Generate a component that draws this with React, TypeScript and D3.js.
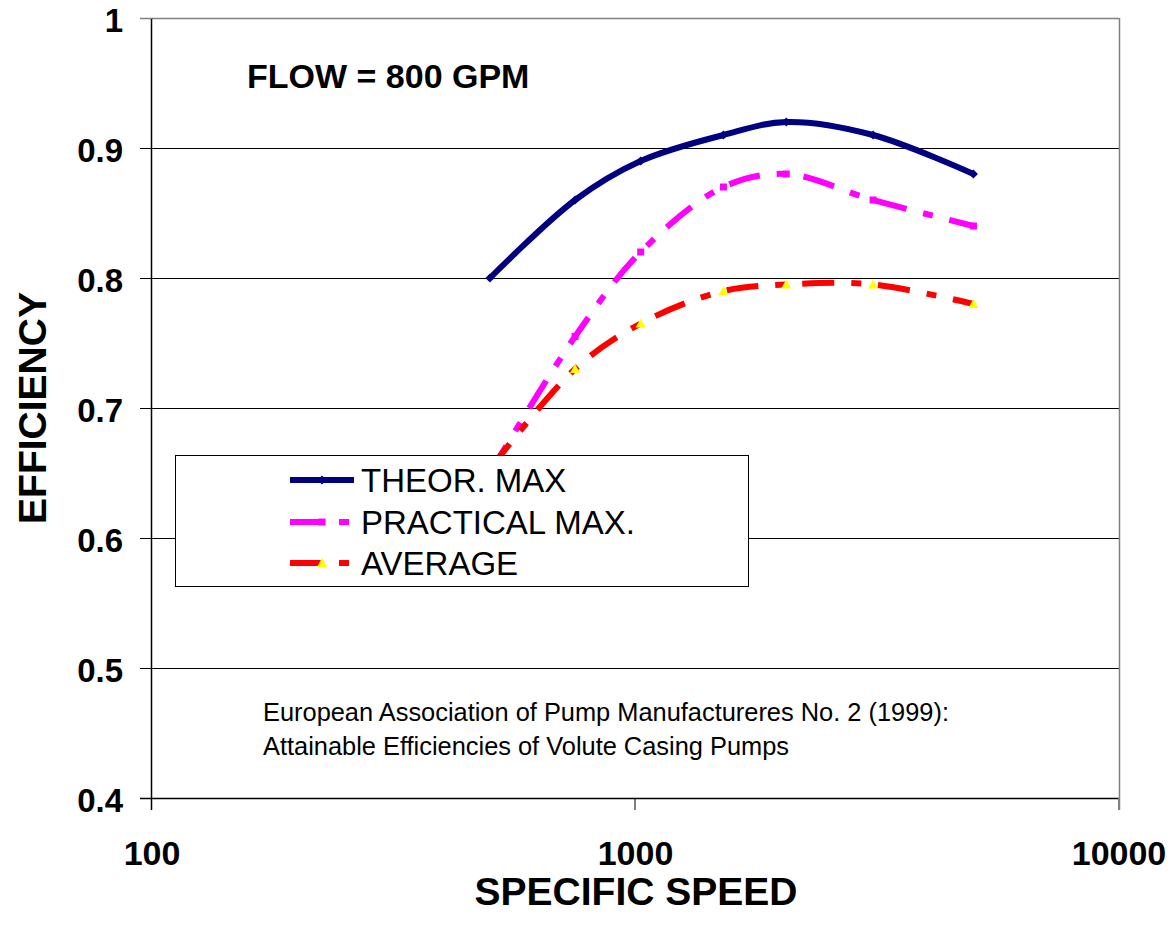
import React from "react";
import * as d3 from "d3";

// Specific speed (x) sample points shared by all three series
const specificSpeed = [500, 750, 1025, 1520, 2050, 3100, 5000];
const theorMax = [0.8, 0.86, 0.89, 0.91, 0.92, 0.91, 0.88];
const practicalMax = [0.65, 0.755, 0.82, 0.87, 0.88, 0.86, 0.84];
const average = [0.653, 0.73, 0.765, 0.79, 0.795, 0.795, 0.78];

const seriesNames = ["THEOR. MAX", "PRACTICAL MAX.", "AVERAGE"];
const xTicks = [100, 1000, 10000];
const xTickLabels = ["100", "1000", "10000"];
const yTicks = [0.4, 0.5, 0.6, 0.7, 0.8, 0.9, 1];
const yTickLabels = ["0.4", "0.5", "0.6", "0.7", "0.8", "0.9", "1"];

const W = 1173;
const H = 934;
const plot = { left: 152, right: 1119, top: 18, bottom: 798 };
const FONT = "'Liberation Sans', Arial, sans-serif";
const DASH = "32 17 10 17";

const x = d3.scaleLog().domain([100, 10000]).range([plot.left, plot.right]);
const y = d3.scaleLinear().domain([0.4, 1]).range([plot.bottom, plot.top]);

type Pt = [number, number];
const toPts = (vals: number[]): Pt[] => specificSpeed.map((s, i) => [s, vals[i]]);

const line = d3
  .line<Pt>()
  .x((d) => x(d[0]))
  .y((d) => y(d[1]))
  .curve(d3.curveCatmullRom.alpha(0.5));

function Diamond({ cx, cy, r, fill }: { cx: number; cy: number; r: number; fill: string }) {
  return <path d={`M${cx},${cy - r}L${cx + r},${cy}L${cx},${cy + r}L${cx - r},${cy}Z`} fill={fill} />;
}
function Square({ cx, cy, r, fill }: { cx: number; cy: number; r: number; fill: string }) {
  return <rect x={cx - r} y={cy - r} width={2 * r} height={2 * r} fill={fill} />;
}
function Triangle({ cx, cy, r, fill }: { cx: number; cy: number; r: number; fill: string }) {
  return <path d={`M${cx},${cy - r}L${cx + r},${cy + r * 0.8}L${cx - r},${cy + r * 0.8}Z`} fill={fill} />;
}

const series = [
  { name: seriesNames[0], values: theorMax, color: "#000080", dash: undefined as string | undefined, marker: "diamond", markerFill: "#000080" },
  { name: seriesNames[1], values: practicalMax, color: "#FF00FF", dash: DASH, marker: "square", markerFill: "#FF00FF" },
  { name: seriesNames[2], values: average, color: "#FF0000", dash: DASH, marker: "triangle", markerFill: "#FFFF00" },
];

function Marker({ kind, cx, cy, fill }: { kind: string; cx: number; cy: number; fill: string }) {
  if (kind === "diamond") return <Diamond cx={cx} cy={cy} r={4.5} fill={fill} />;
  if (kind === "square") return <Square cx={cx} cy={cy} r={3.5} fill={fill} />;
  return <Triangle cx={cx} cy={cy} r={5} fill={fill} />;
}

export default function App() {
  const legend = { x: 175, y: 455, w: 573, h: 131 };
  const legendRows = [480, 522, 563];

  return (
    <svg
      width={W}
      height={H}
      style={{ position: "absolute", left: 0, top: 0, background: "#fff" }}
      fontFamily={FONT}
    >
      <rect x={0} y={0} width={W} height={H} fill="#fff" />

      {/* horizontal gridlines */}
      {yTicks
        .filter((t) => t > 0.4 && t < 1)
        .map((t) => (
          <line key={t} x1={plot.left} x2={plot.right} y1={y(t) + 0.5} y2={y(t) + 0.5} stroke="#000" strokeWidth={1} />
        ))}

      {/* frame: grey top and right, black axes */}
      <line x1={140} x2={plot.right} y1={plot.top + 0.5} y2={plot.top + 0.5} stroke="#808080" strokeWidth={1.5} />
      <line x1={plot.right + 0.5} x2={plot.right + 0.5} y1={plot.top} y2={plot.bottom + 12} stroke="#808080" strokeWidth={1.5} />
      <line x1={plot.left - 0.5} x2={plot.left - 0.5} y1={plot.top} y2={plot.bottom + 12} stroke="#000" strokeWidth={1.5} />
      <line x1={140} x2={plot.right} y1={plot.bottom + 0.5} y2={plot.bottom + 0.5} stroke="#000" strokeWidth={1.5} />

      {/* y ticks and labels */}
      {yTicks.map((t, i) => (
        <g key={t}>
          <line x1={140} x2={plot.left} y1={y(t) + 0.5} y2={y(t) + 0.5} stroke={t === 1 ? "#808080" : "#000"} strokeWidth={1} />
          <text x={123} y={y(t) + 14} textAnchor="end" fontSize={33} fontWeight="bold" fill="#000">
            {yTickLabels[i]}
          </text>
        </g>
      ))}

      {/* x ticks and labels */}
      {xTicks.map((t, i) => (
        <g key={t}>
          <line x1={x(t) - 0.5} x2={x(t) - 0.5} y1={plot.bottom} y2={plot.bottom + 12} stroke={t === 10000 ? "#808080" : "#000"} strokeWidth={1} />
          <text x={x(t)} y={865} textAnchor="middle" fontSize={34} fontWeight="bold" fill="#000">
            {xTickLabels[i]}
          </text>
        </g>
      ))}

      {/* axis titles */}
      <text x={636} y={905} textAnchor="middle" fontSize={39} fontWeight="bold" fill="#000">
        SPECIFIC SPEED
      </text>
      <text
        transform={`translate(46,408) rotate(-90)`}
        textAnchor="middle"
        fontSize={39}
        fontWeight="bold"
        fill="#000"
      >
        EFFICIENCY
      </text>

      {/* series */}
      {series.map((s) => {
        const pts = toPts(s.values);
        return (
          <g key={s.name}>
            <path d={line(pts) || ""} fill="none" stroke={s.color} strokeWidth={6} strokeDasharray={s.dash} strokeLinejoin="round" />
            {pts.map((p, i) => (
              <Marker key={i} kind={s.marker} cx={x(p[0])} cy={y(p[1])} fill={s.markerFill} />
            ))}
          </g>
        );
      })}

      {/* annotations */}
      <text x={247} y={88} fontSize={34} fontWeight="bold" fill="#000">
        FLOW = 800 GPM
      </text>
      <text x={263} y={721} fontSize={25.4} fill="#000">
        European Association of Pump Manufactureres No. 2 (1999):
      </text>
      <text x={263} y={755} fontSize={25.4} fill="#000">
        Attainable Efficiencies of Volute Casing Pumps
      </text>

      {/* legend */}
      <rect x={legend.x + 0.5} y={legend.y + 0.5} width={legend.w} height={legend.h} fill="#fff" stroke="#000" strokeWidth={1} />
      {series.map((s, i) => {
        const ly = legendRows[i];
        return (
          <g key={s.name}>
            <line x1={290} x2={354} y1={ly} y2={ly} stroke={s.color} strokeWidth={6} strokeDasharray={s.dash} />
            <Marker kind={s.marker} cx={322} cy={ly} fill={s.markerFill} />
            <text x={361} y={ly + 12} fontSize={33} fill="#000">
              {s.name}
            </text>
          </g>
        );
      })}
    </svg>
  );
}
